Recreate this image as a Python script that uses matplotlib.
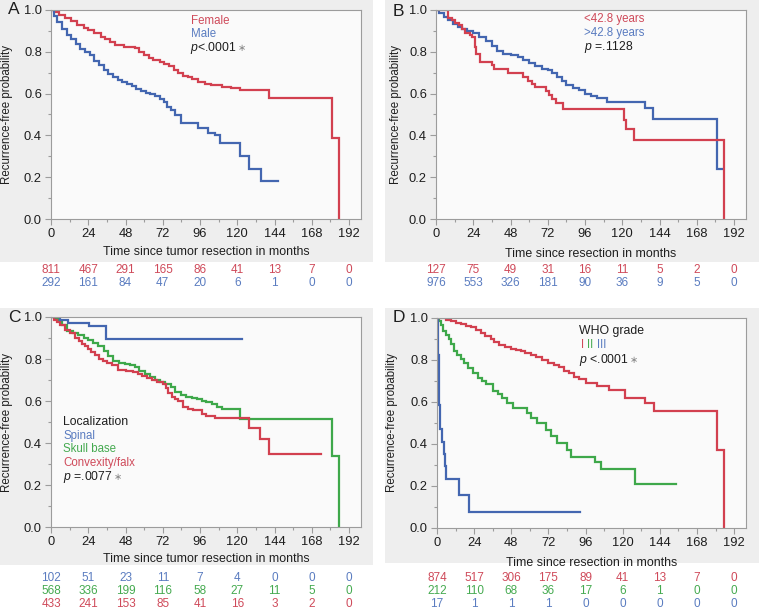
import matplotlib
matplotlib.use("Agg")
import matplotlib.pyplot as plt
from matplotlib.patches import Rectangle
from matplotlib.ticker import MultipleLocator
from matplotlib.transforms import blended_transform_factory

plt.rcParams['font.family'] = ['Liberation Sans', 'DejaVu Sans']
plt.rcParams['mathtext.fontset'] = 'custom'
plt.rcParams['mathtext.it'] = 'Liberation Sans:italic'
plt.rcParams['mathtext.rm'] = 'Liberation Sans'

RED = '#d2404f'
BLUE = '#4366b0'
GREEN = '#3ea84a'
RED_T = '#cf4a5a'
BLUE_T = '#5a7cc0'
GREEN_T = '#45aa50'
GRID = '#9c9c9c'
INK = '#1e1e1e'

months = [0, 24, 48, 72, 96, 120, 144, 168, 192]

# ---- panel A: sex
female_t = [0, 2, 5, 9, 13, 17, 21, 24, 28, 32, 35, 38, 41, 47, 54, 57, 60, 63, 66, 70, 73, 76,
            79, 82, 85, 88, 91, 95, 99, 103, 110, 116, 122, 140.5, 181, 185.6]
female_s = [1.0, .99, .975, .96, .945, .93, .915, .904, .89, .873, .86, .845, .833, .825, .817, .80,
            .785, .772, .76, .75, .74, .73, .715, .70, .686, .678, .67, .655, .648, .642, .633,
            .625, .616, .577, .386, 0.0]
male_t = [0, 2, 4, 7, 10, 13, 16, 19, 22, 25, 28, 31, 34, 37, 40, 43, 46, 49, 52, 55, 58, 61, 64,
          67, 70, 72.5, 75, 77, 80, 84, 95, 101, 105.7, 109, 121.8, 127.8, 135, 146]
male_s = [1.0, .97, .944, .91, .88, .86, .835, .815, .80, .785, .755, .735, .715, .695, .68, .665,
          .655, .648, .635, .62, .612, .605, .598, .59, .575, .56, .535, .52, .50, .458, .434,
          .41, .40, .365, .30, .24, .18, .18]
female_risk = [811, 467, 291, 165, 86, 41, 13, 7, 0]
male_risk = [292, 161, 84, 47, 20, 6, 1, 0, 0]

# ---- panel B: age
young_t = [0, 8, 10, 12, 15, 17, 19, 22, 23.5, 25, 26, 28.4, 36, 37.5, 46.6, 56, 59.5, 62, 64,
           71, 73, 75, 77.3, 82, 121, 122.5, 127.6, 185.6]
young_s = [1.0, .96, .95, .94, .93, .91, .89, .88, .873, .825, .79, .75, .737, .72, .697, .68, .66,
           .645, .633, .612, .595, .575, .553, .526, .475, .43, .378, 0.0]
old_t = [0, 2, 5, 8, 11, 14, 17, 20, 24, 28, 32, 36, 39, 43, 48, 53, 56, 60, 64, 68, 72, 75, 78,
         81, 84, 88, 92, 96, 100, 104, 110, 134.7, 140, 181, 185]
old_s = [1.0, .985, .965, .95, .935, .92, .91, .90, .888, .87, .85, .83, .805, .79, .785, .775,
         .76, .745, .73, .72, .713, .70, .68, .66, .64, .625, .615, .60, .59, .58, .56, .53, .478,
         .24, .24]
young_risk = [127, 75, 49, 31, 16, 11, 5, 2, 0]
old_risk = [976, 553, 326, 181, 90, 36, 9, 5, 0]

# ---- panel C: localization
spinal_t = [0, 5.8, 10.7, 24.7, 35.4, 122.8]
spinal_s = [1.0, .985, .97, .955, .895, .895]
skull_t = [0, 2.5, 4.7, 7, 10, 14, 17.6, 21, 24, 27, 30.5, 34, 37, 40, 44, 47.7, 51, 54, 57, 60.6,
           64, 67, 70, 73.5, 77, 80, 84, 87, 90.6, 94, 97, 100, 103.5, 107, 110, 121.8, 181, 185.6]
skull_s = [1.0, .99, .98, .96, .935, .925, .915, .90, .89, .875, .86, .84, .815, .79, .78, .775,
           .77, .76, .745, .73, .715, .70, .69, .68, .665, .645, .63, .62, .615, .61, .60, .595,
           .585, .57, .56, .515, .34, 0.0]
conv_t = [0, 2, 3.7, 6, 9, 12, 15.5, 18, 20, 22, 24, 26, 28.4, 31, 33.7, 36, 39, 43.4, 48, 53, 56,
          58.4, 62, 64.9, 68, 72.4, 74, 75.6, 78, 80, 82, 85, 88, 91.7, 97, 100, 105.7, 127.6,
          134.6, 140.5, 174]
conv_s = [1.0, .985, .975, .96, .94, .925, .90, .885, .87, .86, .85, .835, .82, .80, .79, .78,
          .77, .75, .745, .74, .73, .72, .71, .70, .69, .68, .66, .64, .62, .61, .60, .57, .56,
          .555, .54, .53, .52, .47, .42, .35, .35]
spinal_risk = [102, 51, 23, 11, 7, 4, 0, 0, 0]
skull_risk = [568, 336, 199, 116, 58, 27, 11, 5, 0]
conv_risk = [433, 241, 153, 85, 41, 16, 3, 2, 0]

# ---- panel D: WHO grade
g1_t = [0, 5.8, 9, 12, 15.5, 19, 21.9, 25, 28.4, 31, 34.8, 37, 40, 44, 47.7, 51, 54, 57, 60.6,
        64, 68, 72, 75.6, 79, 82, 85, 88.5, 92, 96, 103.5, 111, 121.8, 134.6, 140.5, 181, 185.6]
g1_s = [1.0, .99, .985, .975, .97, .96, .955, .945, .93, .915, .90, .885, .87, .86, .853, .85,
        .845, .835, .825, .815, .80, .785, .775, .765, .75, .74, .72, .71, .69, .676, .657, .62,
        .593, .555, .37, 0.0]
g2_t = [0, 1, 2.6, 4, 5.8, 7.5, 9, 11.2, 13, 15.5, 17.5, 19.8, 23, 26.2, 29, 31.6, 35.9, 39.1, 42,
        45.5, 48.8, 58.4, 60.6, 64.9, 70.2, 73.5, 77.7, 84.2, 86.3, 102.4, 105.7, 128, 154.6]
g2_s = [1.0, .985, .965, .94, .917, .90, .877, .845, .825, .804, .785, .764, .74, .716, .70, .684,
        .652, .636, .62, .596, .572, .548, .524, .50, .468, .436, .404, .372, .337, .316, .28,
        .208, .208]
g3_t = [0, .4, .6, .8, 1.0, 1.2, 1.4, 1.6, 1.8, 2.1, 3.2, 4.3, 4.9, 6.0, 14.4, 20.4, 92.3]
g3_s = [1.0, .941, .882, .824, .765, .706, .647, .588, .529, .47, .41, .353, .294, .235, .157,
        .078, .078]
g1_risk = [874, 517, 306, 175, 89, 41, 13, 7, 0]
g2_risk = [212, 110, 68, 36, 17, 6, 1, 0, 0]
g3_risk = [17, 1, 1, 1, 0, 0, 0, 0, 0]

W, H = 759, 610
LAB = 8.3   # coloured group labels
fig = plt.figure(figsize=(W / 100, H / 100), dpi=100)
fig.patch.set_facecolor('white')


def px_rect(x0, y0, x1, y1):
    return [x0 / W, 1 - y1 / H, (x1 - x0) / W, (y1 - y0) / H]


# grey panel backgrounds
for x0, y0, x1, y1 in [(0, 0, 373, 262), (385, 0, 759, 262), (0, 308, 373, 565), (385, 308, 759, 563)]:
    r = px_rect(x0, y0, x1, y1)
    fig.patches.append(Rectangle((r[0], r[1]), r[2], r[3], transform=fig.transFigure,
                                 facecolor='#eeeeee', edgecolor='none', zorder=-10))


def panel(box, letter, xlabel, curves, risks, risk_rows, xl_y, yl_x, letter_xy):
    ax = fig.add_axes(px_rect(*box))
    ax.set_facecolor('#fafafa')
    for t, s, c in curves:
        ax.step(t, s, where='post', color=c, lw=1.6, solid_joinstyle='miter')
    ax.set_xlim(0, 199.7)
    ax.set_ylim(0, 1)
    ax.xaxis.set_major_locator(MultipleLocator(24))
    ax.xaxis.set_minor_locator(MultipleLocator(12))
    ax.yaxis.set_major_locator(MultipleLocator(0.2))
    ax.yaxis.set_minor_locator(MultipleLocator(0.1))
    ax.yaxis.set_major_formatter(plt.FuncFormatter(lambda v, p: f"{v:.1f}"))
    ax.tick_params(which='major', length=4, width=0.8, color=GRID, labelsize=9.3,
                   labelcolor=INK, pad=2.5)
    ax.tick_params(which='minor', length=2.5, width=0.8, color=GRID)
    for sp in ax.spines.values():
        sp.set_color(GRID)
        sp.set_linewidth(0.8)
    ax.set_xlabel(xlabel, fontsize=8.9, color=INK)
    ax.set_ylabel('Recurrence-free probability', fontsize=8.3, color=INK)
    ax.xaxis.set_label_coords(0.5, xl_y)
    ax.yaxis.set_label_coords(yl_x, 0.5)
    fig.text(letter_xy[0] / W, 1 - letter_xy[1] / H, letter, fontsize=12.5, color=INK,
             ha='left', va='center')
    tr = blended_transform_factory(ax.transData, fig.transFigure)
    for vals, c, ypx in zip(risks, risk_rows[0], risk_rows[1]):
        for m, v in zip(months, vals):
            ax.text(m, 1 - ypx / H, str(v), transform=tr, ha='center', va='center',
                    fontsize=8.5, color=c, clip_on=False)
    return ax


def ptext(ax, x, y, s):
    t = ax.text(x, y, s, transform=ax.transAxes, fontsize=8.8, color=INK, va='center', ha='left')
    return t


def star(ax, t):
    ax.annotate('\u2217', xy=(1, 0.5), xycoords=t, xytext=(0.5, 0), textcoords='offset points',
                va='center', ha='left', fontsize=7, color='#888888', family=['DejaVu Sans'])


def label(ax, x, y, s, c):
    ax.text(x, y, s, transform=ax.transAxes, color=c, fontsize=LAB, va='center')


# A
ax = panel((51, 10, 361, 219), 'A', 'Time since tumor resection in months',
           [(female_t, female_s, RED), (male_t, male_s, BLUE)],
           [female_risk, male_risk], ([RED_T, BLUE_T], [270, 283]),
           -0.127, -0.123, (8, 10))
label(ax, 0.45, 0.947, 'Female', RED_T)
label(ax, 0.45, 0.885, 'Male', BLUE_T)
star(ax, ptext(ax, 0.45, 0.82, '$p$<.0001'))

# B
ax = panel((436, 10, 746, 219), 'B', 'Time since resection in months',
           [(old_t, old_s, BLUE), (young_t, young_s, RED)],
           [young_risk, old_risk], ([RED_T, BLUE_T], [270, 283]),
           -0.141, -0.11, (393, 12))
label(ax, 0.477, 0.955, '<42.8 years', RED_T)
label(ax, 0.477, 0.89, '>42.8 years', BLUE_T)
ptext(ax, 0.477, 0.823, '$p$ =.1128')

# C
ax = panel((51, 317, 361, 527), 'C', 'Time since tumor resection in months',
           [(skull_t, skull_s, GREEN), (conv_t, conv_s, RED), (spinal_t, spinal_s, BLUE)],
           [spinal_risk, skull_risk, conv_risk], ([BLUE_T, GREEN_T, RED_T], [578, 591, 604]),
           -0.126, -0.123, (8, 317))
ax.text(0.04, 0.50, 'Localization', transform=ax.transAxes, color=INK, fontsize=8.8, va='center')
label(ax, 0.04, 0.433, 'Spinal', BLUE_T)
label(ax, 0.04, 0.371, 'Skull base', GREEN_T)
label(ax, 0.04, 0.305, 'Convexity/falx', RED_T)
star(ax, ptext(ax, 0.04, 0.238, '$p$ =.0077'))

# D
ax = panel((437, 318, 746, 528), 'D', 'Time since resection in months',
           [(g2_t, g2_s, GREEN), (g3_t, g3_s, BLUE), (g1_t, g1_s, RED)],
           [g1_risk, g2_risk, g3_risk], ([RED_T, GREEN_T, BLUE_T], [578, 591, 604]),
           -0.136, -0.126, (393, 318))
ax.text(0.46, 0.938, 'WHO grade', transform=ax.transAxes, color=INK, fontsize=8.8, va='center')
for x, s, c in [(0.465, 'I', RED_T), (0.487, 'II', GREEN_T), (0.517, 'III', BLUE_T)]:
    label(ax, x, 0.871, s, c)
star(ax, ptext(ax, 0.46, 0.80, '$p$ <.0001'))

fig.savefig('out.png', dpi=100, facecolor='white')
